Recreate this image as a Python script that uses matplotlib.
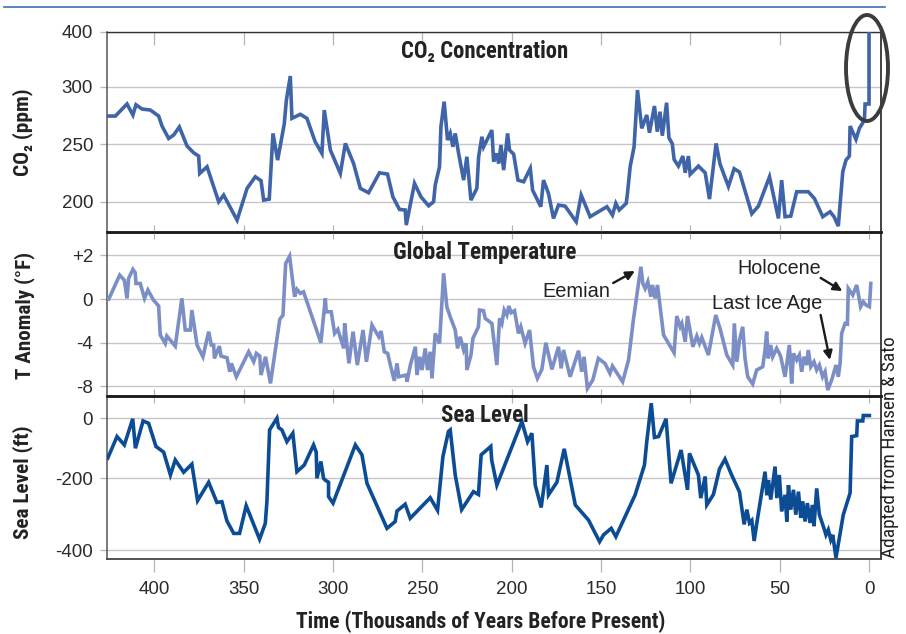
import numpy as np
import matplotlib
matplotlib.use("Agg")
import matplotlib.pyplot as plt
from matplotlib import font_manager as fm
from matplotlib.patches import Ellipse
from matplotlib.lines import Line2D

# ---------------- data ----------------
co2_kyr = [426.1, 421.8, 415.3, 412.0, 410.3, 406.9, 402.2, 397.6, 395.7, 392.0, 389.2, 386.0,
           381.7, 378.0, 375.2, 374.6, 370.5, 364.0, 361.2, 353.7, 348.1, 343.5, 340.3, 338.8,
           335.7, 333.6, 331.0, 327.3, 326.1, 323.9, 323.0, 318.3, 314.6, 310.0, 306.2, 304.9,
           301.5, 295.9, 293.1, 288.5, 284.7, 280.1, 274.0, 269.5, 266.5, 262.8, 259.6, 259.0,
           254.4, 250.8, 246.5, 243.7, 242.8, 240.4, 239.6, 237.8, 235.9, 234.4, 232.9, 231.6,
           229.7, 226.9, 225.1, 222.8, 219.5, 218.5, 216.7, 215.7, 211.1, 210.1, 208.3, 207.3,
           206.0, 204.5, 203.6, 202.3, 201.2, 198.9, 196.5, 193.3, 189.6, 188.3, 183.7, 182.2,
           179.4, 176.6, 173.8, 170.1, 163.9, 161.1, 156.1, 146.7, 143.6, 141.7, 139.8, 135.9,
           135.2, 133.7, 131.5, 129.6, 127.2, 124.4, 122.9, 120.1, 118.5, 117.0, 115.7, 113.3,
           112.0, 110.1, 109.1, 106.7, 104.2, 102.9, 101.1, 100.1, 95.5, 91.7, 89.3, 85.6,
           83.4, 78.7, 75.5, 72.5, 65.6, 61.9, 55.7, 50.7, 48.9, 47.0, 43.8, 40.5, 34.0, 30.6,
           25.9, 21.8, 19.6, 17.2, 14.7, 12.9, 11.0, 10.6, 7.3, 5.4, 2.6, 2.2, 0.0, 0.0]
co2_ppm = [274.5, 274.5, 285.0, 275.4, 284.3, 280.6, 279.7, 274.5, 265.8, 255.0, 258.0, 265.0,
           248.4, 242.6, 239.7, 224.6, 230.4, 200.0, 205.8, 184.0, 211.6, 221.7, 218.3, 201.4,
           202.3, 259.4, 236.2, 267.5, 288.4, 319.5, 272.5, 276.0, 272.5, 252.2, 242.0, 279.7,
           245.0, 224.6, 250.7, 233.3, 211.6, 207.8, 225.2, 224.0, 204.3, 193.3, 192.8, 179.7,
           216.0, 204.3, 196.5, 200.0, 214.5, 230.4, 265.2, 287.0, 253.6, 259.4, 247.8, 259.4,
           242.0, 218.8, 239.1, 201.4, 211.6, 239.1, 256.5, 247.8, 262.3, 234.8, 242.0, 233.3,
           249.3, 227.5, 240.6, 259.4, 244.9, 241.4, 218.8, 217.4, 229.0, 210.1, 195.7, 218.8,
           207.2, 185.5, 197.1, 196.2, 182.6, 205.8, 187.0, 195.7, 188.4, 198.6, 192.8, 198.6,
           207.2, 230.4, 247.8, 297.1, 263.8, 275.4, 260.0, 283.2, 260.9, 278.3, 257.4, 286.1,
           255.7, 250.4, 236.8, 231.0, 239.7, 225.2, 239.7, 223.8, 231.0, 225.2, 202.3, 250.7,
           232.8, 213.3, 228.7, 225.8, 189.6, 196.2, 221.7, 185.5, 218.8, 187.0, 187.5, 208.7,
           208.7, 202.9, 187.0, 191.3, 187.0, 178.8, 226.0, 236.2, 239.7, 265.8, 254.2, 263.8,
           271.0, 285.0, 285.0, 400.0]

temp_kyr = [425.5, 419.4, 416.8, 415.3, 414.4, 412.0, 410.7, 410.3, 407.9, 405.5, 403.6, 400.5,
            397.6, 396.7, 393.9, 393.0, 388.3, 384.6, 382.7, 379.9, 379.0, 376.1, 372.8, 369.6,
            368.1, 366.8, 366.4, 363.6, 362.7, 359.3, 357.8, 356.9, 354.1, 347.2, 344.4, 342.9,
            341.0, 340.3, 337.8, 335.0, 329.8, 328.0, 326.5, 324.3, 321.5, 320.2, 318.3, 316.5,
            306.8, 304.3, 303.8, 301.0, 299.1, 297.3, 294.0, 293.5, 291.1, 288.8, 286.4, 283.2,
            281.3, 278.2, 274.4, 273.1, 271.3, 269.4, 267.9, 265.7, 264.2, 263.2, 259.0, 258.6,
            256.7, 253.9, 253.0, 251.5, 250.2, 248.4, 247.1, 245.6, 244.6, 242.8, 240.4, 238.1,
            236.3, 234.4, 231.6, 230.3, 228.8, 226.9, 225.5, 225.1, 222.8, 221.7, 218.6, 218.0,
            215.8, 214.8, 211.1, 208.3, 206.8, 205.5, 204.2, 202.7, 201.6, 200.3, 198.4, 196.2,
            194.9, 192.5, 190.0, 187.8, 185.6, 183.1, 180.9, 177.5, 173.8, 172.3, 171.0, 167.3,
            162.6, 160.8, 159.5, 157.6, 154.6, 151.5, 147.8, 145.0, 143.6, 137.9, 134.6, 131.9,
            129.4, 127.7, 126.6, 125.3, 123.8, 122.1, 121.2, 119.7, 118.4, 115.0, 109.1, 107.6,
            105.7, 104.8, 102.9, 101.6, 98.6, 96.4, 94.9, 93.6, 89.9, 85.8, 83.4, 79.6, 76.3,
            75.4, 74.0, 72.5, 70.7, 69.4, 67.9, 65.1, 62.9, 59.5, 58.2, 57.3, 56.4, 55.1, 53.9,
            51.7, 50.2, 49.4, 47.0, 44.6, 43.3, 42.3, 40.5, 39.0, 37.7, 36.4, 34.9, 34.0, 32.6,
            30.8, 29.3, 27.8, 26.0, 24.6, 23.1, 20.9, 18.5, 17.2, 16.2, 15.3, 13.4, 12.1, 11.6,
            9.1, 6.9, 4.7, 3.2, 1.7, -0.2, -1.0]
temp_f = [0.0, 1.09, 0.86, 0.03, 0.94, 1.35, 1.2, 0.71, 0.71, 0.03, 0.41, -0.09,
          -0.64, -3.31, -4.08, -3.4, -4.33, 0.03, -2.85, -2.85, -1.01, -4.23, -5.31, -3.0,
          -4.23, -4.23, -5.46, -4.33, -5.25, -5.4, -6.69, -5.92, -7.15, -4.85, -5.77, -5.0,
          -5.25, -6.99, -5.31, -7.76, -1.87, -1.47, 1.62, 1.95, 0.11, 0.44, 0.26, 0.33,
          -4.02, 0.03, -1.17, -1.17, -3.16, -2.79, -4.54, -2.24, -5.92, -3.0, -6.07, -2.85,
          -5.77, -2.39, -3.47, -2.94, -4.85, -5.0, -6.07, -7.52, -5.92, -7.15, -6.99, -7.61,
          -6.07, -4.39, -6.99, -5.31, -6.53, -4.54, -6.53, -4.85, -7.3, -3.16, -4.08, 1.17,
          -0.71, -1.63, -2.85, -4.54, -3.47, -4.69, -4.08, -6.53, -5.15, -3.62, -2.55, -1.01,
          -1.07, -1.78, -2.24, -6.07, -1.78, -2.24, -1.01, -1.47, -0.64, -1.26, -1.07, -3.16,
          -2.55, -4.08, -2.85, -6.23, -7.3, -6.47, -4.02, -6.47, -4.39, -6.38, -4.69, -7.15,
          -4.75, -6.69, -5.31, -8.22, -7.45, -5.46, -5.92, -6.84, -6.17, -7.61, -5.61, -1.93,
          0.48, 1.47, 0.71, 0.48, 0.79, 0.11, 0.64, 0.03, 0.64, -3.31, -4.94, -1.56,
          -2.55, -2.24, -3.93, -1.56, -4.39, -3.4, -4.08, -3.53, -5.15, -1.47, -2.7, -5.15, -6.07,
          -2.24, -5.77, -3.77, -2.55, -5.46, -7.15, -7.82, -6.53, -6.23, -4.69, -3.0, -5.46, -4.23, -5.31,
          -4.54, -5.0, -5.31, -7.15, -4.23, -7.76, -5.0, -5.61, -5.15, -6.69, -5.31, -6.07, -4.69, -6.23,
          -5.77, -6.53, -6.07, -7.15, -6.69, -8.37, -7.45, -6.07, -7.15, -5.92, -3.16, -2.24, -2.3, 0.48,
          0.18, 0.64, -0.71, -0.25, -0.55, -0.71, 0.71]

sea_kyr = [426.1, 420.9, 416.8, 412.1, 410.6, 406.3, 403.2, 399.1, 394.8, 391.0, 388.3, 383.6,
           379.0, 375.8, 369.6, 365.0, 362.2, 359.4, 355.6, 352.3, 348.6, 341.1, 337.9, 337.0,
           335.5, 331.4, 330.5, 328.6, 325.8, 322.5, 320.2, 316.1, 310.9, 309.4, 309.0, 306.8,
           305.3, 304.4, 302.5, 302.5, 300.0, 287.5, 283.8, 281.0, 269.8, 265.2, 264.2, 259.6,
           256.8, 245.6, 241.5, 238.5, 235.4, 234.4, 231.6, 228.0, 221.4, 218.6, 217.1, 211.7,
           211.2, 208.3, 194.3, 191.1, 188.7, 186.8, 183.5, 180.3, 179.4, 174.7, 170.6, 164.4,
           157.0, 150.8, 148.6, 144.3, 141.7, 130.9, 125.7, 124.4, 121.9, 120.1, 117.8, 113.6,
           110.8, 105.2, 101.6, 100.5, 95.5, 94.2, 91.7, 90.8, 87.1, 83.7, 80.6, 76.9, 72.5,
           69.9, 68.4, 66.9, 65.6, 64.3, 62.8, 58.2, 57.2, 56.3, 55.0, 52.6, 51.6, 50.2, 48.9,
           47.0, 46.0, 45.1, 43.8, 42.3, 41.0, 39.5, 38.2, 37.1, 35.8, 34.5, 33.0, 31.7, 30.8,
           29.3, 27.8, 26.5, 25.2, 24.1, 22.8, 21.4, 20.3, 18.5, 14.4, 10.6, 9.7, 6.9, 6.5,
           3.5, 3.2, -0.2]
sea_ft = [-133, -61, -89, -2, -100, -9, -17, -94, -113, -189, -139, -180,
          -153, -262, -211, -267, -265, -318, -353, -353, -276, -369, -325, -265,
          -39, 0, -31, -39, -78, -50, -178, -156, -89, -113, -200, -144,
          -200, -205, -211, -251, -269, -89, -122, -214, -339, -320, -291, -272,
          -311, -254, -289, -128, -44, -39, -189, -287, -237, -245, -122, -94,
          -139, -219, -11, -78, -50, -219, -281, -156, -246, -211, -102, -274,
          -316, -376, -357, -339, -362, -246, -156, -78, 50, -64, -61, -2,
          -214, -106, -232, -117, -189, -255, -194, -274, -245, -169, -136, -189, -238,
          -328, -287, -324, -317, -374, -324, -178, -247, -205, -259, -161, -255, -189, -292,
          -246, -320, -219, -287, -232, -301, -237, -310, -264, -320, -269, -324, -274, -333,
          -228, -301, -320, -339, -357, -343, -371, -357, -421, -301, -241, -61, -58, -9,
          -9, 9, 9]

x_ticks = [400, 350, 300, 250, 200, 150, 100, 50, 0]
co2_ticks = [200, 250, 300, 400]
co2_tick_labels = ["200", "250", "300", "400"]
temp_ticks = [2, 0, -4, -8]
temp_tick_labels = ["+2", "0", "-4", "-8"]
sea_ticks = [0, -200, -400]
sea_tick_labels = ["0", "-200", "-400"]

# axis break knots (value -> vertical pixel position)
co2_knots_v = [0, 200, 300, 400, 1000]
co2_knots_p = [-431.7, -201.7, -86.7, -32.0, 298.0]
temp_knots_v = [-30, -8, 0, 2, 20]
temp_knots_p = [-625.25, -386.0, -299.0, -255.0, 141.0]
sea_knots_v = [-1000, -400, -200, 0, 500]
sea_knots_p = [-766.3, -550.3, -478.3, -418.3, -268.3]

# ---------------- fonts ----------------
W, H = 906, 634
REG = ['Liberation Sans', 'DejaVu Sans']
ttf = fm.fontManager.ttflist
_names = {f.name for f in ttf}
if 'Liberation Sans Narrow' in _names:
    NARROW = dict(family=['Liberation Sans Narrow', 'DejaVu Sans'])
elif 'Roboto Condensed' in _names:
    NARROW = dict(family=['Roboto Condensed', 'DejaVu Sans'])
elif any(f.name == 'DejaVu Sans' and f.stretch == 'condensed' for f in ttf):
    NARROW = dict(family=['DejaVu Sans'], fontstretch='condensed')
else:
    NARROW = dict(family=['Liberation Sans', 'DejaVu Sans'])
plt.rcParams['font.family'] = REG

c_co2 = '#3f64a8'
c_temp = '#7b8ec6'
c_sea = '#0b4c94'
grid_c = '#c6c6c6'
tick_c = '#b4b4b4'
txt_c = '#222222'

fig = plt.figure(figsize=(W / 100, H / 100), dpi=100)
fig.patch.set_facecolor('white')
renderer = fig.canvas.get_renderer()


def fx(px):
    return px / W


def fy(py):
    return 1 - py / H


def fit(t, target_px):
    for _ in range(3):
        bb = t.get_window_extent(renderer)
        cur = max(bb.width, bb.height)
        if cur > 0:
            t.set_fontsize(t.get_fontsize() * target_px / cur)


left, right = 107, 881
panels = [(32, 232), (232, 396), (396, 559)]
axes = []
for top, bot in panels:
    ax = fig.add_axes([fx(left), fy(bot), fx(right) - fx(left), (bot - top) / H])
    ax.set_facecolor('none')
    axes.append(ax)
ax1, ax2, ax3 = axes


def set_piecewise(ax, kv, kp):
    kv = np.asarray(kv, float)
    kp = np.asarray(kp, float)
    ax.set_yscale('function', functions=(lambda v: np.interp(v, kv, kp),
                                         lambda p: np.interp(p, kp, kv)))


set_piecewise(ax1, co2_knots_v, co2_knots_p)
set_piecewise(ax2, temp_knots_v, temp_knots_p)
set_piecewise(ax3, sea_knots_v, sea_knots_p)

ax1.plot(co2_kyr, co2_ppm, color=c_co2, lw=2.6, solid_joinstyle='miter', zorder=3)
ax2.plot(temp_kyr, temp_f, color=c_temp, lw=2.6, solid_joinstyle='miter', zorder=3)
ax3.plot(sea_kyr, sea_ft, color=c_sea, lw=2.6, solid_joinstyle='miter', zorder=3)

ax1.set_ylim(173.7, 400)
ax2.set_ylim(-8.92, 3.05)
ax3.set_ylim(-424, 74)

for ax, ticks, labels in [(ax1, co2_ticks, co2_tick_labels),
                          (ax2, temp_ticks, temp_tick_labels),
                          (ax3, sea_ticks, sea_tick_labels)]:
    ax.set_xlim(426.5, -6.7)
    ax.set_xticks(x_ticks)
    ax.set_yticks(ticks)
    ax.set_yticklabels(labels)
    ax.yaxis.set_minor_locator(matplotlib.ticker.NullLocator())
    ax.grid(axis='y', color=grid_c, lw=1.0, zorder=0)
    ax.tick_params(axis='y', direction='out', length=5, width=0.9, color=tick_c,
                   pad=5, labelsize=13.5, labelcolor='#2a2a2a')
    ax.spines['left'].set_color('#555555')
    ax.spines['left'].set_linewidth(1.1)
    ax.spines['right'].set_color('#333333')
    ax.spines['right'].set_linewidth(1.3)
    for s in ['top', 'bottom']:
        ax.spines[s].set_color('#1a1a1a')
        ax.spines[s].set_linewidth(1.8)

ax1.spines['top'].set_linewidth(1.0)
ax1.spines['top'].set_color('#333333')
ax3.spines['bottom'].set_linewidth(1.3)
ax3.spines['bottom'].set_color('#444444')

ax1.tick_params(axis='x', direction='in', top=True, bottom=False, length=9.5, width=0.9,
                color=tick_c, labelbottom=False)
ax2.tick_params(axis='x', direction='inout', top=True, bottom=True, length=10, width=0.9,
                color=tick_c, labelbottom=False)
ax3.tick_params(axis='x', direction='out', top=False, bottom=True, length=9.5, width=0.9,
                color=tick_c, pad=6, labelsize=13.5, labelcolor='#2a2a2a')

# axis labels
lab_kw = dict(fontweight='bold', fontsize=16, color=txt_c, **NARROW)
yl1 = ax1.set_ylabel('CO₂ (ppm)', **lab_kw)
yl2 = ax2.set_ylabel('T Anomaly (°F)', **lab_kw)
yl3 = ax3.set_ylabel('Sea Level (ft)', **lab_kw)
ax1.yaxis.set_label_coords(-0.0956, 0.5)
ax2.yaxis.set_label_coords(-0.093, 0.49)
ax3.yaxis.set_label_coords(-0.0956, 0.47)
xl = fig.text(fx(481), fy(622), 'Time (Thousands of Years Before Present)',
              ha='center', va='center', **lab_kw)

# panel titles
ttl_kw = dict(fontweight='bold', fontsize=16, color=txt_c, ha='center', va='center', **NARROW)
t1 = ax1.text(0.488, 0.9, 'CO₂ Concentration', transform=ax1.transAxes, **ttl_kw)
t2 = ax2.text(0.488, 0.878, 'Global Temperature', transform=ax2.transAxes, **ttl_kw)
t3 = ax3.text(0.488, 0.883, 'Sea Level', transform=ax3.transAxes, **ttl_kw)

# annotations (axes-fraction positions in temperature panel)
ann_kw = dict(fontsize=14.3, color=txt_c, ha='center', va='center', transform=ax2.transAxes)
arrow = dict(arrowstyle='-|>', color='#1a1a1a', lw=1.7, mutation_scale=13, shrinkA=0, shrinkB=0)
a1 = ax2.text(0.606, 0.640, 'Eemian', **ann_kw)
ax2.annotate('', xy=(0.682, 0.762), xytext=(0.654, 0.689), xycoords='axes fraction',
             textcoords='axes fraction', arrowprops=arrow)
a2 = ax2.text(0.868, 0.780, 'Holocene', **ann_kw)
ax2.annotate('', xy=(0.950, 0.640), xytext=(0.922, 0.720), xycoords='axes fraction',
             textcoords='axes fraction', arrowprops=arrow)
a3 = ax2.text(0.853, 0.561, 'Last Ice Age', **ann_kw)
ax2.annotate('', xy=(0.934, 0.220), xytext=(0.922, 0.494), xycoords='axes fraction',
             textcoords='axes fraction', arrowprops=arrow)

# credit
cr = fig.text(fx(890), fy(447), 'Adapted from Hansen & Sato', rotation=90, ha='center',
              va='center', fontsize=14, color=txt_c, **NARROW)

# match the text extents of the picture
for t, w in [(yl1, 88), (yl2, 127), (yl3, 113), (xl, 368), (t1, 166), (t2, 184), (t3, 88),
             (a1, 68), (a2, 84), (a3, 110), (cr, 220)]:
    fit(t, w)

# highlight ellipse around the modern CO2 spike
fig.add_artist(Ellipse((fx(867), fy(68)), 42 / W, 106 / H, transform=fig.transFigure,
                       fill=False, ec='#3c3c3c', lw=2.8))

# top rule
fig.add_artist(Line2D([fx(4), fx(885)], [fy(7), fy(7)], color='#3f6fb0', lw=1.2))

fig.savefig('out.png', dpi=100)
